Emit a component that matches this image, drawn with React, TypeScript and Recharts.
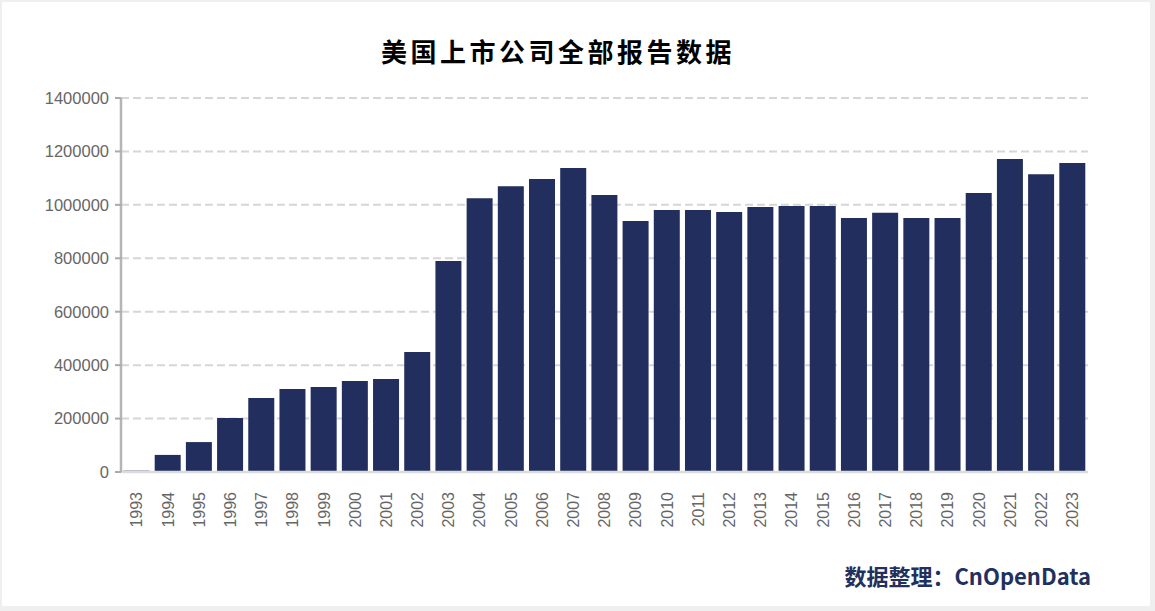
import React from "react";
import { BarChart, Bar, XAxis, YAxis, CartesianGrid } from "recharts";

const years = [
  "1993", "1994", "1995", "1996", "1997", "1998", "1999", "2000", "2001", "2002",
  "2003", "2004", "2005", "2006", "2007", "2008", "2009", "2010", "2011", "2012",
  "2013", "2014", "2015", "2016", "2017", "2018", "2019", "2020", "2021", "2022", "2023",
];
const reports = [
  5000, 64000, 112000, 202000, 277000, 311000, 318000, 341000, 348000, 449000,
  790000, 1025000, 1070000, 1097000, 1138000, 1037000, 940000, 981000, 981000, 973000,
  992000, 996000, 996000, 951000, 970000, 951000, 951000, 1044000, 1172000, 1115000, 1157000,
];
const yTicks = [0, 200000, 400000, 600000, 800000, 1000000, 1200000, 1400000];

const title = "美国上市公司全部报告数据";
const footer = "数据整理：CnOpenData";

const data = years.map((y, i) => ({ year: y, value: reports[i] }));

const XTick = (props: any) => {
  const { x, y, payload } = props;
  return (
    <text
      x={x}
      y={y}
      dy="0.36em"
      transform={`rotate(-90 ${x} ${y})`}
      textAnchor="end"
      fill="#666"
      fontSize={16}
      fontFamily="'Liberation Sans', Arial, sans-serif"
    >
      {payload.value}
    </text>
  );
};

export default function App() {
  return (
    <div
      style={{
        position: "fixed",
        left: 0,
        top: 0,
        width: 1155,
        height: 611,
        background: "#efefef",
      }}
    >
      <div
        style={{
          position: "absolute",
          left: 2,
          top: 2,
          width: 1148,
          height: 604,
          background: "#ffffff",
        }}
      />
      <div
        style={{
          position: "absolute",
          left: 0,
          top: 38,
          width: 1116,
          textAlign: "center",
          fontFamily: "'Noto Sans CJK SC', sans-serif",
          fontWeight: 700,
          fontSize: 26,
          lineHeight: "26px",
          letterSpacing: 3.5,
          color: "#000",
        }}
      >
        {title}
      </div>
      <div style={{ position: "absolute", left: 0, top: 0 }}>
        <BarChart
          width={1155}
          height={611}
          data={data}
          margin={{ top: 98, right: 67, bottom: 79, left: 0 }}
          barCategoryGap="8%"
        >
          <CartesianGrid
            horizontal
            vertical={false}
            stroke="#d6d6d6"
            strokeWidth={2}
            strokeDasharray="8 4"
          />
          <XAxis
            dataKey="year"
            height={60}
            interval={0}
            axisLine={{ stroke: "#dcdcdc", strokeWidth: 2.5 }}
            tickLine={false}
            tickSize={6}
            tickMargin={14}
            tick={<XTick />}
          />
          <YAxis
            width={121}
            domain={[0, 1400000]}
            ticks={yTicks}
            interval={0}
            axisLine={{ stroke: "#b5b5b5", strokeWidth: 2.5 }}
            tickLine={{ stroke: "#aaaaaa", strokeWidth: 2 }}
            tickSize={6}
            tickMargin={6}
            tick={{
              fill: "#666",
              fontSize: 16.5,
              fontFamily: "'Liberation Sans', Arial, sans-serif",
            }}
          />
          <Bar dataKey="value" fill="#222f5e" isAnimationActive={false} />
        </BarChart>
      </div>
      <div
        style={{
          position: "absolute",
          left: 0,
          top: 564,
          width: 1091,
          textAlign: "right",
          fontFamily: "'Noto Sans CJK SC', sans-serif",
          fontWeight: 700,
          fontSize: 22,
          lineHeight: "22px",
          color: "#22305e",
        }}
      >
        {footer}
      </div>
    </div>
  );
}
